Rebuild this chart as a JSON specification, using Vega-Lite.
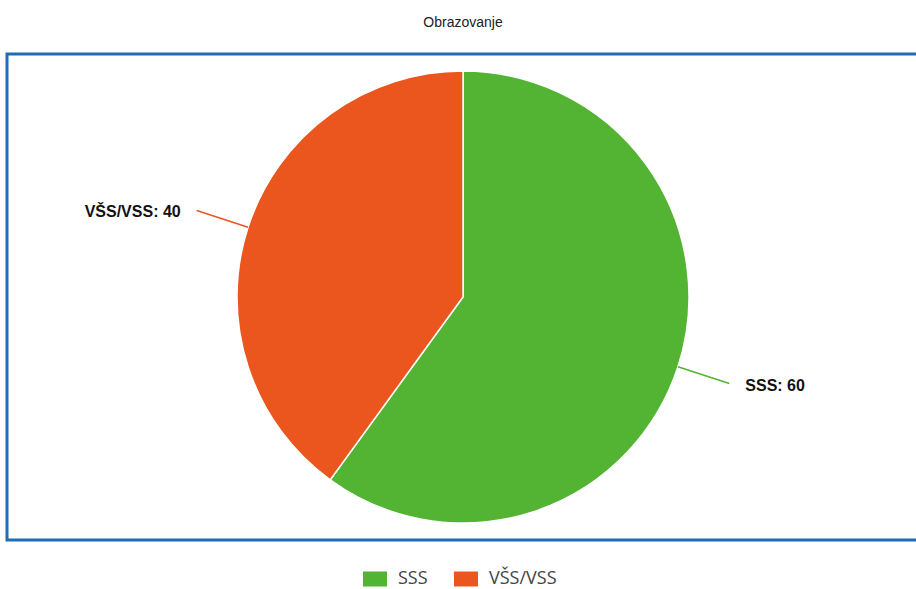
{
  "$schema": "https://vega.github.io/schema/vega-lite/v6.json",
  "width": 912,
  "height": 486,
  "autosize": {"type": "none"},
  "padding": {"left": 7, "top": 54, "right": 0, "bottom": 49},
  "background": "white",
  "title": {"text": "Obrazovanje", "font": "Liberation Sans", "fontSize": 14, "fontWeight": "normal", "color": "#222222", "anchor": "middle", "offset": 23},
  "data": {"values": [
    {"cat": "SSS", "value": 60},
    {"cat": "VŠS/VSS", "value": 40}
  ]},
  "transform": [
    {"stack": "value", "groupby": [], "sort": [{"field": "cat", "order": "ascending"}], "as": ["v0", "v1"]},
    {"calculate": "(datum.v0 + datum.v1) / 2", "as": "mid"},
    {"calculate": "datum.cat + ': ' + datum.value", "as": "label"}
  ],
  "layer": [
    {
      "transform": [{"filter": "datum.cat == 'SSS'"}],
      "mark": {"type": "rect", "fill": null, "fillOpacity": 0, "stroke": "#1f6db5", "strokeWidth": 3},
      "encoding": {
        "x": {"value": 0},
        "x2": {"value": "width"},
        "y": {"value": 0},
        "y2": {"value": "height"}
      }
    },
    {
      "mark": {"type": "arc", "radius": 226, "stroke": "white", "strokeWidth": 1.5},
      "encoding": {
        "theta": {"field": "v0", "type": "quantitative", "scale": {"domain": [0, 100]}},
        "theta2": {"field": "v1"},
        "color": {
          "field": "cat", "type": "nominal",
          "scale": {"domain": ["SSS", "VŠS/VSS"], "range": ["#53b332", "#ea561d"]},
          "legend": {
            "title": null, "orient": "none", "direction": "horizontal",
            "legendX": 359, "legendY": 516,
            "symbolType": "M-1.6,-1H1.6V1H-1.6Z", "symbolSize": 225, "symbolStrokeWidth": 0,
            "labelFont": "Open Sans", "labelFontSize": 18, "labelColor": "#444444",
            "labelOffset": 14, "columnPadding": 26
          }
        }
      }
    },
    {
      "mark": {"type": "arc", "radius": 226, "radius2": 280, "fillOpacity": 0, "strokeWidth": 1.5},
      "encoding": {
        "theta": {"field": "mid", "type": "quantitative", "scale": {"domain": [0, 100]}},
        "theta2": {"field": "mid"},
        "stroke": {"field": "cat", "type": "nominal", "scale": {"domain": ["SSS", "VŠS/VSS"], "range": ["#53b332", "#ea561d"]}, "legend": null}
      }
    },
    {
      "transform": [{"filter": "datum.cat == 'SSS'"}],
      "mark": {"type": "text", "radius": 280, "align": "left", "baseline": "middle", "dx": 16, "dy": 2, "font": "Liberation Sans", "fontWeight": "bold", "fontSize": 16, "letterSpacing": 1.3, "color": "#111111"},
      "encoding": {
        "theta": {"field": "mid", "type": "quantitative", "scale": {"domain": [0, 100]}},
        "text": {"field": "label"}
      }
    },
    {
      "transform": [{"filter": "datum.cat != 'SSS'"}],
      "mark": {"type": "text", "radius": 280, "align": "right", "baseline": "middle", "dx": -16, "dy": 2, "font": "Liberation Sans", "fontWeight": "bold", "fontSize": 16, "letterSpacing": 1.3, "color": "#111111"},
      "encoding": {
        "theta": {"field": "mid", "type": "quantitative", "scale": {"domain": [0, 100]}},
        "text": {"field": "label"}
      }
    }
  ],
  "config": {
    "view": {"stroke": null}
  }
}
